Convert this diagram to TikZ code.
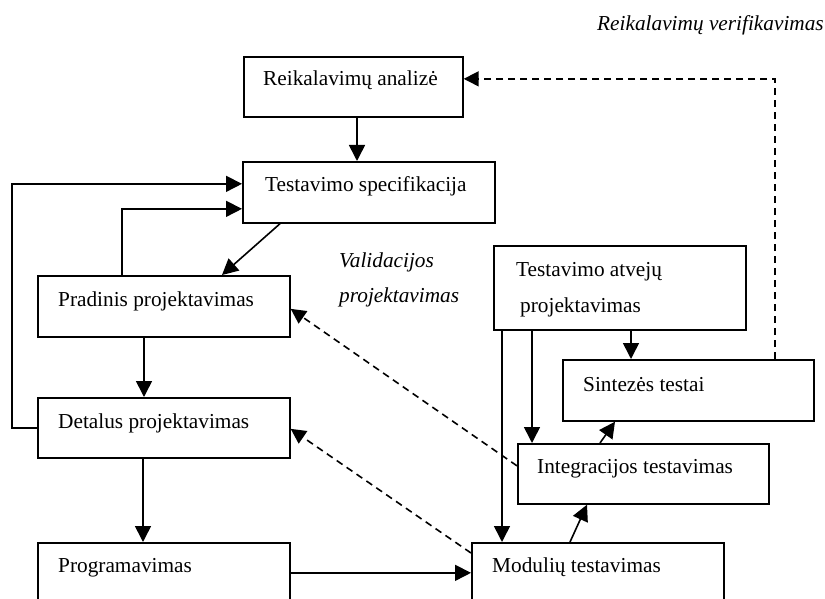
\documentclass[tikz,border=0pt]{standalone}
\usepackage{fontspec}
\setmainfont{Liberation Serif}
\usetikzlibrary{arrows.meta}

\tikzset{
  procbox/.style={draw, line width=1.7pt, rectangle, anchor=north west, inner sep=0pt},
  boxtext/.style={anchor=base west, inner sep=0pt, font=\fontsize{21.3}{25}\selectfont},
  notetext/.style={anchor=base west, inner sep=0pt, font=\fontsize{21.3}{25}\selectfont\itshape},
  flow/.style={line width=1.6pt, -{Triangle[length=16pt,width=16pt]}},
  feedback/.style={line width=1.6pt, dash pattern=on 7pt off 5pt, -{Triangle[length=15pt,width=15pt]}},
}

\begin{document}
\begin{tikzpicture}[x=1pt, y=-1pt]
  \useasboundingbox (0,0) rectangle (825,599);
  \clip (0,0) rectangle (825,599);

  % process boxes
  \node[procbox, minimum width=219pt, minimum height=60pt] (ra) at (243,56) {};
  \node[procbox, minimum width=252pt, minimum height=61pt] (ts) at (242,161) {};
  \node[procbox, minimum width=252pt, minimum height=61pt] (pp) at (37,275) {};
  \node[procbox, minimum width=252pt, minimum height=60pt] (dp) at (37,397) {};
  \node[procbox, minimum width=252pt, minimum height=80pt] (pg) at (37,542) {};
  \node[procbox, minimum width=252pt, minimum height=80pt] (mt) at (471,542) {};
  \node[procbox, minimum width=251pt, minimum height=60pt] (it) at (517,443) {};
  \node[procbox, minimum width=251pt, minimum height=61pt] (si) at (562,359) {};
  \node[procbox, minimum width=252pt, minimum height=84pt] (ta) at (493,245) {};

  % box captions
  \node[boxtext] (ra-l) at ([xshift=20pt,yshift=-30pt]ra.north west) {Reikalavimų analizė};
  \node[boxtext] (ts-l) at ([xshift=23pt,yshift=-31pt]ts.north west) {Testavimo specifikacija};
  \node[boxtext] (pp-l) at ([xshift=21pt,yshift=-31pt]pp.north west) {Pradinis projektavimas};
  \node[boxtext] (dp-l) at ([xshift=21pt,yshift=-31pt]dp.north west) {Detalus projektavimas};
  \node[boxtext] (pg-l) at ([xshift=21pt,yshift=-30pt]pg.north west) {Programavimas};
  \node[boxtext] (mt-l) at ([xshift=21pt,yshift=-30pt]mt.north west) {Modulių testavimas};
  \node[boxtext] (it-l) at ([xshift=20pt,yshift=-30pt]it.north west) {Integracijos testavimas};
  \node[boxtext] (si-l) at ([xshift=21pt,yshift=-32pt]si.north west) {Sintezės testai};
  \node[boxtext] (ta-l1) at ([xshift=23pt,yshift=-31pt]ta.north west) {Testavimo atvejų};
  \node[boxtext] (ta-l2) at ([xshift=27pt,yshift=-67pt]ta.north west) {projektavimas};

  % free-standing notes
  \node[notetext] (verif) at (597,31) {Reikalavimų verifikavimas};
  \node[notetext] (valid1) at (339,267) {Validacijos};
  \node[notetext] (valid2) at (339,302) {projektavimas};

  % main flow
  \draw[flow] ([xshift=114pt]ra.south west) -- ([xshift=115pt]ts.north west);
  \draw[flow] ([xshift=38pt]ts.south west) -- ([xshift=185pt]pp.north west);
  \draw[flow] ([xshift=107pt]pp.south west) -- ([xshift=107pt]dp.north west);
  \draw[flow] ([xshift=106pt]dp.south west) -- ([xshift=106pt]pg.north west);
  \draw[flow] ([yshift=10pt]pg.east) -- ([yshift=10pt]mt.west);
  \draw[flow] ([xshift=99pt]mt.north west) -- ([xshift=70pt]it.south west);
  \draw[flow] ([xshift=83pt]it.north west) -- ([xshift=53pt]si.south west);

  % returns to the specification
  \draw[flow] (dp.west) -- ++(-25,0) |- ([yshift=8.5pt]ts.west);
  \draw[flow] ([xshift=85pt]pp.north west) |- ([yshift=-16.5pt]ts.west);

  % test case design feeds the test levels
  \draw[flow] ([xshift=9pt]ta.south west) -- ([xshift=31pt]mt.north west);
  \draw[flow] ([xshift=39pt]ta.south west) -- ([xshift=15pt]it.north west);
  \draw[flow] ([xshift=138pt]ta.south west) -- ([xshift=69pt]si.north west);

  % verification and validation feedback
  \draw[feedback] ([xshift=213pt]si.north west) |- ([yshift=8pt]ra.east);
  \draw[feedback] ([yshift=8pt]it.west) -- ([yshift=-2.5pt]pp.east);
  \draw[feedback] ([yshift=-11pt]mt.north west) -- ([yshift=-1pt]dp.east);
\end{tikzpicture}
\end{document}
